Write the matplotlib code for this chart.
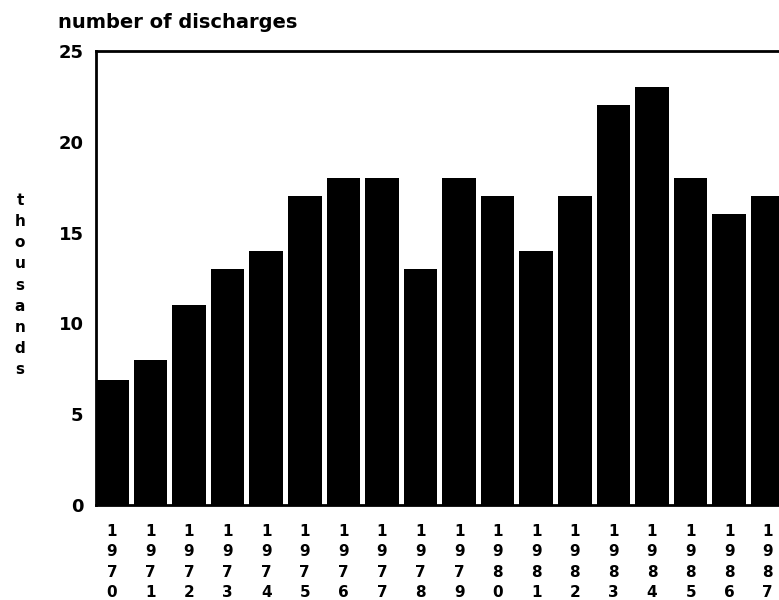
import matplotlib
matplotlib.use("Agg")
import matplotlib.pyplot as plt

# number of discharges (thousands), 1970-1987
years = [1970, 1971, 1972, 1973, 1974, 1975, 1976, 1977, 1978,
         1979, 1980, 1981, 1982, 1983, 1984, 1985, 1986, 1987]
discharges = [6.9, 8, 11, 13, 14, 17, 18, 18, 13,
              18, 17, 14, 17, 22, 23, 18, 16, 17]
yticks = [0, 5, 10, 15, 20, 25]

plt.rcParams['font.family'] = ['DejaVu Sans']
plt.rcParams['font.weight'] = 'bold'

fig = plt.figure(figsize=(7.79, 6.0), dpi=100)
ax = fig.add_axes([96 / 779, 95 / 600, 1 - 96 / 779, 454 / 600])

x = list(range(len(years)))
ax.bar(x, discharges, width=0.87, color='black')

ax.set_ylim(0, 25)
ax.set_xlim(-0.41, 17.29)
ax.set_yticks(yticks)
ax.set_yticklabels([str(v) for v in yticks], fontsize=13, fontweight='bold')
ax.set_xticks(x)
ax.set_xticklabels(['\n'.join(str(y)) for y in years], fontsize=11,
                   fontweight='bold', linespacing=1.42)
ax.tick_params(axis='x', length=0, pad=14)
ax.tick_params(axis='y', length=0, pad=9)

ax.spines['right'].set_visible(False)
for s in ['left', 'top', 'bottom']:
    ax.spines[s].set_linewidth(2)

fig.text(58 / 779, 1 - 22 / 600, 'number of discharges', fontsize=14,
         fontweight='bold', ha='left', va='center')
fig.text(20 / 779, 1 - 285 / 600, '\n'.join('thousands'), fontsize=11,
         fontweight='bold', ha='center', va='center', linespacing=1.52)

fig.savefig('out.png', dpi=100)
